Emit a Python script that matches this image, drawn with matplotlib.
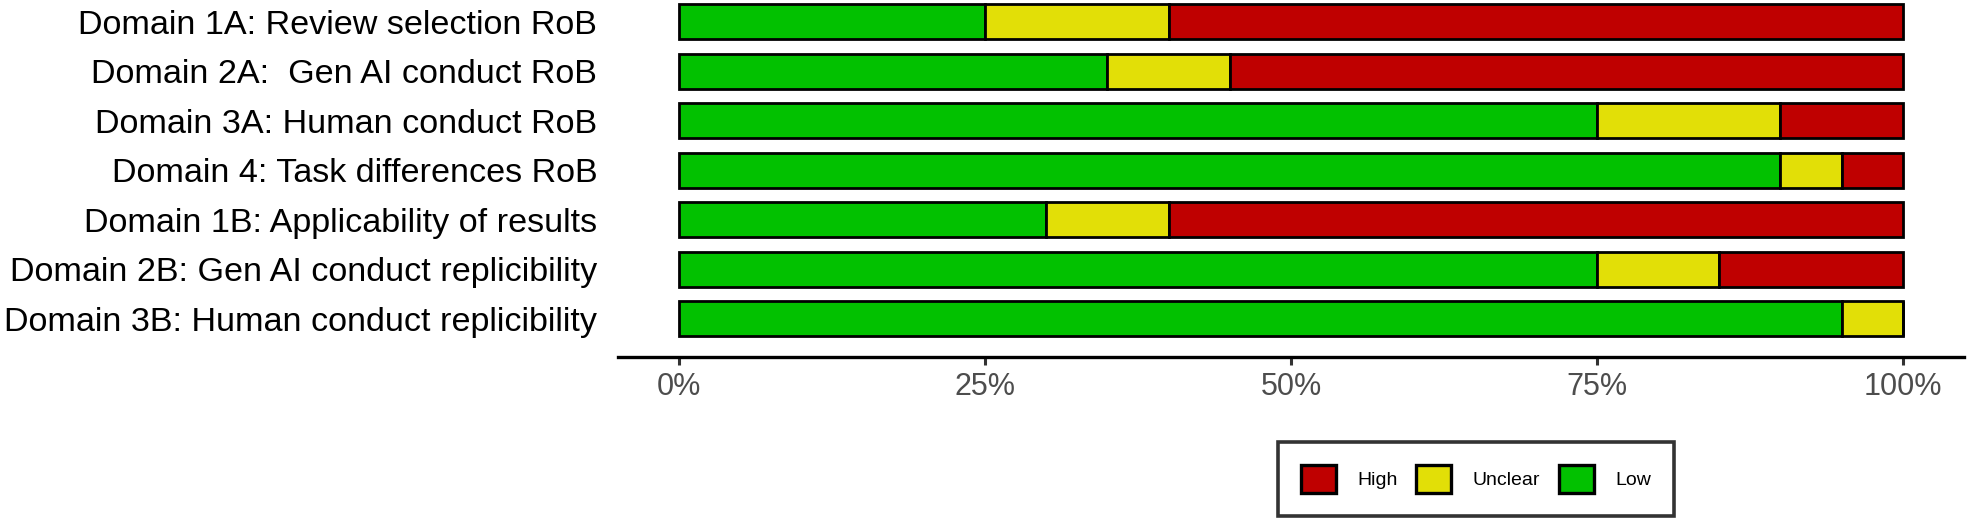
import numpy as np
import matplotlib
matplotlib.use("Agg")
import matplotlib.pyplot as plt
from matplotlib.patches import Patch

# Data (percent of studies per judgement)
DOMAINS = [
    "Domain 1A: Review selection RoB",
    "Domain 2A:  Gen AI conduct RoB",
    "Domain 3A: Human conduct RoB",
    "Domain 4: Task differences RoB",
    "Domain 1B: Applicability of results",
    "Domain 2B: Gen AI conduct replicibility",
    "Domain 3B: Human conduct replicibility",
]
LOW = [25, 35, 75, 90, 30, 75, 95]
UNCLEAR = [15, 10, 15, 5, 10, 10, 5]
HIGH = [60, 55, 10, 5, 60, 15, 0]
TICKS = [0, 25, 50, 75, 100]
TICK_LABELS = ["0%", "25%", "50%", "75%", "100%"]

COLORS = {"Low": "#02C100", "Unclear": "#E2DF07", "High": "#BF0000"}

W, H, DPI = 1967, 521, 100
plt.rcParams["font.family"] = ["Liberation Sans", "DejaVu Sans"]

fig = plt.figure(figsize=(W / DPI, H / DPI), dpi=DPI)
ax = fig.add_axes([618 / W, 1 - 357 / H, 1346 / W, 357 / H])

y = np.arange(len(DOMAINS))
left = np.zeros(len(DOMAINS))
for name, vals in (("Low", LOW), ("Unclear", UNCLEAR), ("High", HIGH)):
    vals = np.array(vals, dtype=float)
    ax.barh(y, vals, left=left, height=0.7, color=COLORS[name],
            edgecolor="black", linewidth=2.0, zorder=3)
    left += vals

ax.set_xlim(-5, 105)
ax.set_ylim(6.774, -0.438)
ax.set_xticks(TICKS)
ax.set_xticklabels(TICK_LABELS, fontsize=22, color="#4D4D4D")
ax.set_yticks(y)
ax.set_yticklabels(DOMAINS, fontsize=24.6, color="black")

for s in ("top", "right", "left"):
    ax.spines[s].set_visible(False)
ax.spines["bottom"].set_linewidth(2.4)
ax.tick_params(axis="x", length=6, width=2.2, color="#333333", pad=5)
ax.tick_params(axis="y", length=0, pad=15)

handles = [Patch(facecolor=COLORS[k], edgecolor="black", linewidth=2.4, label=k)
           for k in ("High", "Unclear", "Low")]
leg = fig.legend(handles=handles, ncol=3, loc="center",
                 bbox_to_anchor=(1476 / W, 1 - 479 / H),
                 fontsize=14, frameon=True, fancybox=False,
                 handlelength=1.8, handleheight=1.8,
                 handletextpad=1.1, columnspacing=0.95,
                 borderpad=1.2, borderaxespad=0)
leg.get_frame().set_edgecolor("black")
leg.get_frame().set_linewidth(2.6)

fig.savefig("out.png", dpi=DPI)
